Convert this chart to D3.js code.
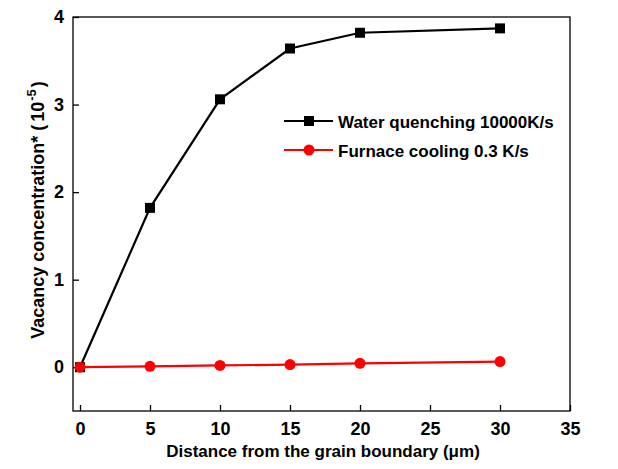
<!DOCTYPE html>
<html><head><meta charset="utf-8">
<script src="https://cdn.jsdelivr.net/npm/d3@7"></script>
<style>body{margin:0;background:#fff}</style>
</head><body>
<svg id="c" width="618" height="469"></svg>
<script>
const distances = [0, 5, 10, 15, 20, 30];
const waterQuench = [0, 1.82, 3.06, 3.64, 3.82, 3.87];
const furnaceCool = [0, 0.01, 0.02, 0.03, 0.045, 0.065];
const xTicks = [0, 5, 10, 15, 20, 25, 30, 35];
const yTicks = [0, 1, 2, 3, 4];
const seriesNames = ["Water quenching 10000K/s", "Furnace cooling 0.3 K/s"];

const svg = d3.select("#c");
const L = 73, R = 570, T = 17, B = 411;
const x = d3.scaleLinear().domain([-0.5, 35]).range([L, R]);
const y = d3.scaleLinear().domain([-0.5, 4]).range([B, T]);
const font = "Liberation Sans, Arial, sans-serif";

svg.append("rect").attr("x", L).attr("y", T).attr("width", R - L).attr("height", B - T)
  .attr("fill", "none").attr("stroke", "#000").attr("stroke-width", 1.3);

const xa = svg.append("g").attr("transform", `translate(0,${B})`)
  .call(d3.axisBottom(x).tickValues(xTicks).tickFormat(d3.format("d")).tickSizeInner(-6).tickSizeOuter(0).tickPadding(11));
const ya = svg.append("g").attr("transform", `translate(${L},0)`)
  .call(d3.axisLeft(y).tickValues(yTicks).tickFormat(d3.format("d")).tickSizeInner(-6).tickSizeOuter(0).tickPadding(9));
[xa, ya].forEach(a => {
  a.select(".domain").remove();
  a.selectAll("line").attr("stroke", "#000").attr("stroke-width", 1.3);
  a.selectAll("text").attr("font-family", font).attr("font-weight", "bold").attr("font-size", 18).attr("fill", "#000");
});

svg.append("text").attr("x", 323).attr("y", 457).attr("text-anchor", "middle")
  .attr("font-family", font).attr("font-weight", "bold").attr("font-size", 17)
  .text("Distance from the grain boundary (\u03bcm)");

const yl = svg.append("text").attr("transform", `translate(44,210) rotate(-90)`)
  .attr("text-anchor", "middle").attr("font-family", font).attr("font-weight", "bold").attr("font-size", 18);
yl.append("tspan").text("Vacancy concentration* (");
yl.append("tspan").attr("dx", 3).text("10");
yl.append("tspan").attr("dy", -8).attr("dx", 1).attr("font-size", 13).text("-5");
yl.append("tspan").attr("dy", 8).attr("dx", 2).text(")");

const line = d3.line().x(d => x(d[0])).y(d => y(d[1]));
const d1 = distances.map((d, i) => [d, waterQuench[i]]);
const d2 = distances.map((d, i) => [d, furnaceCool[i]]);

svg.append("path").datum(d1).attr("d", line).attr("fill", "none").attr("stroke", "#000").attr("stroke-width", 2.2);
svg.selectAll(".sq").data(d1).join("rect").attr("x", d => x(d[0]) - 5).attr("y", d => y(d[1]) - 5)
  .attr("width", 10).attr("height", 10).attr("fill", "#000");

svg.append("path").datum(d2).attr("d", line).attr("fill", "none").attr("stroke", "#f00").attr("stroke-width", 2.2);
svg.selectAll(".ci").data(d2).join("circle").attr("cx", d => x(d[0])).attr("cy", d => y(d[1]))
  .attr("r", 5.5).attr("fill", "#f00");

// legend
const lg = [{c: "#000", m: "sq", yy: 121}, {c: "#f00", m: "ci", yy: 150}];
lg.forEach((l, i) => {
  svg.append("line").attr("x1", 284).attr("x2", 333).attr("y1", l.yy).attr("y2", l.yy)
    .attr("stroke", l.c).attr("stroke-width", 2.2);
  if (l.m === "sq") svg.append("rect").attr("x", 304).attr("y", l.yy - 5).attr("width", 10).attr("height", 10).attr("fill", l.c);
  else svg.append("circle").attr("cx", 309).attr("cy", l.yy).attr("r", 5.5).attr("fill", l.c);
  svg.append("text").attr("x", 338).attr("y", l.yy + 6.5).attr("font-family", font).attr("font-weight", "bold")
    .attr("font-size", 17).attr("fill", "#000").text(seriesNames[i]);
});
</script>
</body></html>
